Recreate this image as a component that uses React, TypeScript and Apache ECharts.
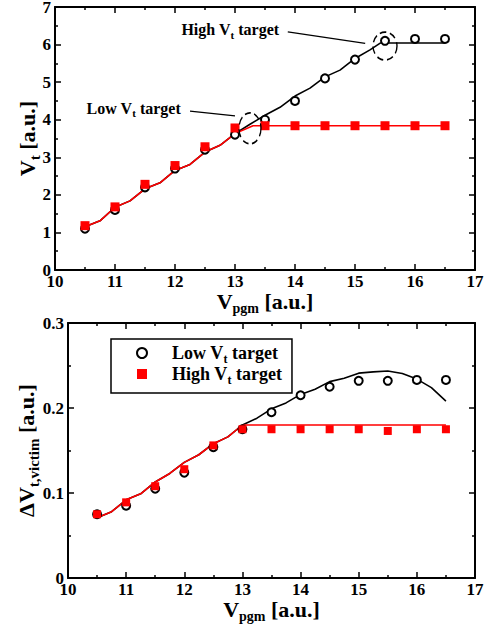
import React, { useEffect, useRef } from 'react';
import * as echarts from 'echarts';

// ---- data ----
const vpgm = [10.5, 11, 11.5, 12, 12.5, 13, 13.5, 14, 14.5, 15, 15.5, 16, 16.5];
const vtLow = [1.1, 1.6, 2.2, 2.7, 3.2, 3.6, 4.0, 4.5, 5.1, 5.6, 6.1, 6.15, 6.15];
const vtHigh = [1.18, 1.68, 2.28, 2.78, 3.28, 3.78, 3.84, 3.84, 3.84, 3.84, 3.84, 3.84, 3.84];

const vtSimLowX = [10.5, 10.75, 11, 11.25, 11.5, 11.75, 12, 12.25, 12.5, 12.75, 13, 13.25, 13.5, 13.75, 14, 14.25, 14.5, 14.75, 15, 15.25, 15.42, 16.5];
const vtSimLowY = [1.15, 1.31, 1.67, 1.84, 2.16, 2.32, 2.65, 2.81, 3.14, 3.32, 3.63, 3.88, 4.12, 4.33, 4.63, 4.84, 5.14, 5.32, 5.63, 5.86, 6.04, 6.04];
const vtSimHighX = [10.5, 10.75, 11, 11.25, 11.5, 11.75, 12, 12.25, 12.5, 12.75, 13, 13.3, 16.5];
const vtSimHighY = [1.15, 1.31, 1.67, 1.84, 2.16, 2.32, 2.65, 2.81, 3.14, 3.32, 3.63, 3.84, 3.84];

const dvLow = [0.075, 0.085, 0.105, 0.124, 0.154, 0.175, 0.195, 0.215, 0.225, 0.232, 0.232, 0.233, 0.233];
const dvHigh = [0.075, 0.089, 0.108, 0.128, 0.156, 0.175, 0.175, 0.175, 0.175, 0.175, 0.173, 0.175, 0.175];

const dvSimLowX = [10.5, 10.75, 11, 11.25, 11.5, 11.75, 12, 12.25, 12.5, 12.75, 13, 13.25, 13.5, 13.75, 14, 14.25, 14.5, 14.75, 15, 15.25, 15.5, 15.75, 16, 16.25, 16.5];
const dvSimLowY = [0.071, 0.078, 0.092, 0.099, 0.113, 0.123, 0.136, 0.145, 0.158, 0.166, 0.18, 0.188, 0.199, 0.206, 0.216, 0.222, 0.231, 0.235, 0.241, 0.2425, 0.2435, 0.2405, 0.234, 0.224, 0.208];
const dvSimHighX = [10.5, 10.75, 11, 11.25, 11.5, 11.75, 12, 12.25, 12.5, 12.75, 13, 16.5];
const dvSimHighY = [0.071, 0.078, 0.092, 0.099, 0.113, 0.123, 0.136, 0.145, 0.158, 0.166, 0.18, 0.18];

const xTicks = { min: 10, max: 17, interval: 1 };
const vtTicks = { min: 0, max: 7, interval: 1 };
const dvTicks = { min: 0, max: 0.3, interval: 0.1 };

const FONT = '"Liberation Serif", "Times New Roman", serif';
const RED = '#ff0000';

const zip = (xs: number[], ys: number[]) => xs.map((x, i) => [x, ys[i]]);

const rich = (size: number, subSize: number, shift: number) => ({
  b: { fontFamily: FONT, fontWeight: 'bold', fontSize: size, color: '#000' },
  s: { fontFamily: FONT, fontWeight: 'bold', fontSize: subSize, color: '#000', padding: [shift, 0, 0, 0] },
});

function xAxes(gridIndex: number, name: string) {
  const base = {
    type: 'value', gridIndex, ...xTicks,
    axisLine: { show: true, onZero: false, lineStyle: { color: '#000', width: 2 } },
    axisTick: { show: true, inside: true, length: 6, lineStyle: { color: '#000', width: 1.5 } },
    minorTick: { show: true, splitNumber: 2, length: 3, lineStyle: { color: '#000', width: 1.5 } },
    splitLine: { show: false },
  };
  return [
    {
      ...base, position: 'bottom',
      axisLabel: { show: true, fontFamily: FONT, fontWeight: 'bold', fontSize: 17, color: '#000', margin: 3 },
      name, nameLocation: 'middle', nameGap: 15,
      nameTextStyle: { rich: rich(22, 14, 14) },
    },
    { ...base, position: 'top', axisLabel: { show: false } },
  ];
}

function yAxes(gridIndex: number, ticks: any, name: string, gap: number, fmt?: (v: number) => string) {
  const base = {
    type: 'value', gridIndex, ...ticks,
    axisLine: { show: true, onZero: false, lineStyle: { color: '#000', width: 2 } },
    axisTick: { show: true, inside: true, length: 6, lineStyle: { color: '#000', width: 1.5 } },
    minorTick: { show: true, splitNumber: 2, length: 3, lineStyle: { color: '#000', width: 1.5 } },
    splitLine: { show: false },
  };
  return [
    {
      ...base, position: 'left',
      axisLabel: { show: true, fontFamily: FONT, fontWeight: 'bold', fontSize: 17, color: '#000', margin: 4, formatter: fmt },
      name, nameLocation: 'middle', nameRotate: 90, nameGap: gap, nameMoveOverlap: false,
      nameTextStyle: { rich: rich(22, 15, 14) },
    },
    { ...base, position: 'right', axisLabel: { show: false } },
  ];
}

export default function App() {
  const ref = useRef<HTMLDivElement>(null);

  useEffect(() => {
    if (!ref.current) return;
    document.body.style.margin = '0';
    const chart = echarts.init(ref.current, undefined, { renderer: 'svg' });

    const lineSeries = (data: number[][], color: string, xi: number, yi: number, z: number) => ({
      type: 'line', data, xAxisIndex: xi, yAxisIndex: yi, symbol: 'none', z,
      lineStyle: { color, width: 1.6 }, silent: true,
    });

    const option: any = {
      animation: false,
      backgroundColor: '#fff',
      grid: [
        { left: 55, top: 7, width: 420, height: 263, outerBoundsMode: 'none', containLabel: false },
        { left: 68, top: 323, width: 407, height: 255, outerBoundsMode: 'none', containLabel: false },
      ],
      xAxis: [...xAxes(0, '{b|V}{s|pgm}{b| [a.u.]}'), ...xAxes(1, '{b|V}{s|pgm}{b| [a.u.]}')],
      yAxis: [
        ...yAxes(0, vtTicks, '{b|V}{s|t}{b| [a.u.]}', 13),
        ...yAxes(1, dvTicks, '{b|ΔV}{s|t,victim}{b| [a.u.]}', 27, (v: number) => (v === 0 ? '0' : v.toFixed(1))),
      ],
      legend: {
        show: true,
        data: ['Low Vt target', 'High Vt target'],
        orient: 'vertical',
        left: 111, top: 339,
        padding: [5, 10, 7, 25],
        itemGap: 0,
        itemWidth: 10, itemHeight: 10,
        borderColor: '#000', borderWidth: 1.5,
        selectedMode: false,
        formatter: (n: string) => (n === 'Low Vt target' ? '{b|Low V}{s|t}{b| target}' : '{b|High V}{s|t}{b| target}'),
        textStyle: { padding: [0, 0, 0, 20], rich: rich(18, 12, 12) },
      },
      series: [
        lineSeries(zip(vtSimLowX, vtSimLowY), '#000', 0, 0, 2),
        lineSeries(zip(vtSimHighX, vtSimHighY), RED, 0, 0, 3),
        {
          name: 'Low top', type: 'scatter', xAxisIndex: 0, yAxisIndex: 0, z: 4,
          data: zip(vpgm, vtLow), symbol: 'emptyCircle', symbolSize: 8,
          itemStyle: { color: '#000', borderColor: '#000', borderWidth: 1.3, opacity: 1 },
        },
        {
          name: 'High top', type: 'scatter', xAxisIndex: 0, yAxisIndex: 0, z: 5,
          data: zip(vpgm, vtHigh), symbol: 'rect', symbolSize: 9,
          itemStyle: { color: RED, opacity: 1 },
        },
        {
          name: 'targets', type: 'scatter', xAxisIndex: 0, yAxisIndex: 0, z: 6, silent: true,
          data: [
            { value: [13.25, 3.77], symbolSize: [22, 31] },
            { value: [15.5, 5.96], symbolSize: [24, 28] },
          ],
          symbol: 'circle',
          itemStyle: { color: 'none', borderColor: '#000', borderWidth: 1.5, borderType: [7, 4], opacity: 1 },
          markLine: {
            silent: true, symbol: ['none', 'arrow'], symbolSize: [0, 8],
            lineStyle: { color: '#000', width: 1.3, type: 'solid', opacity: 1 },
            label: { show: false },
            data: [
              [{ coord: [13.88, 6.34] }, { coord: [15.17, 6.03] }],
              [{ coord: [12.25, 4.23] }, { coord: [13.0, 4.1] }],
            ],
          },
        },
        lineSeries(zip(dvSimLowX, dvSimLowY), '#000', 2, 2, 2),
        lineSeries(zip(dvSimHighX, dvSimHighY), RED, 2, 2, 3),
        {
          name: 'Low Vt target', type: 'scatter', xAxisIndex: 2, yAxisIndex: 2, z: 4,
          data: zip(vpgm, dvLow), symbol: 'emptyCircle', symbolSize: 8,
          itemStyle: { color: '#000', borderColor: '#000', borderWidth: 1.3, opacity: 1 },
        },
        {
          name: 'High Vt target', type: 'scatter', xAxisIndex: 2, yAxisIndex: 2, z: 5,
          data: zip(vpgm, dvHigh), symbol: 'rect', symbolSize: 8,
          itemStyle: { color: RED, opacity: 1 },
        },
      ],
    };

    chart.setOption(option);

    const pHigh = chart.convertToPixel({ gridIndex: 0 }, [12.92, 6.39]) as number[];
    const pLow = chart.convertToPixel({ gridIndex: 0 }, [11.31, 4.31]) as number[];
    const annot = (p: number[], txt: string) => ({
      type: 'text', x: p[0], y: p[1], z: 10,
      style: { text: txt, align: 'center', verticalAlign: 'middle', rich: rich(16, 11, 10) },
    });
    chart.setOption({
      graphic: [
        annot(pHigh, '{b|High V}{s|t}{b| target}'),
        annot(pLow, '{b|Low V}{s|t}{b| target}'),
      ],
    });

    return () => chart.dispose();
  }, []);

  return <div ref={ref} style={{ width: 495, height: 624 }} />;
}
